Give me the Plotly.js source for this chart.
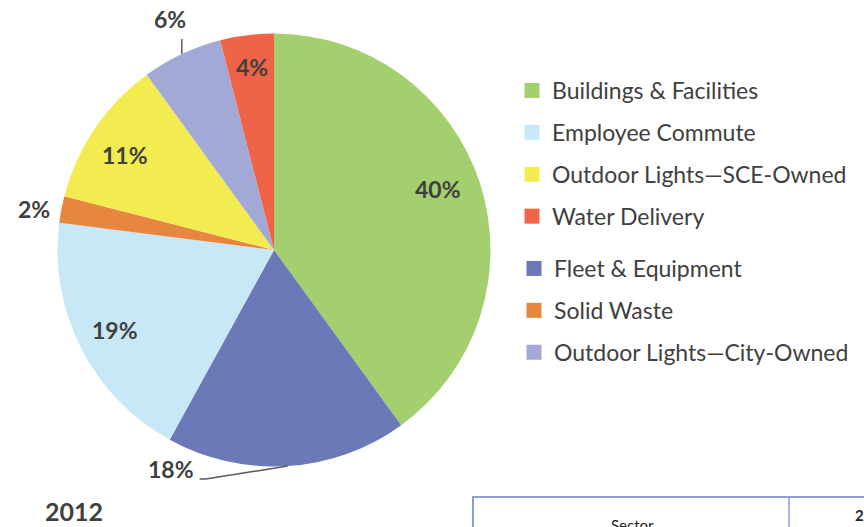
<!DOCTYPE html>
<html>
<head>
<meta charset="utf-8">
<script src="https://cdn.plot.ly/plotly-3.0.1.min.js"></script>
<style>html,body{margin:0;padding:0;background:#fff;overflow:hidden;width:864px;height:527px;}#chart{width:864px;height:527px;overflow:hidden;}</style>
</head>
<body>
<div id="chart"></div>
<script>
// ---- data ----
const categories = ['Buildings & Facilities', 'Fleet & Equipment', 'Employee Commute', 'Solid Waste',
  'Outdoor Lights\u2014SCE-Owned', 'Outdoor Lights\u2014City-Owned', 'Water Delivery'];
const shares = [40, 18, 19, 2, 11, 6, 4];
const legendGroup1 = ['Buildings & Facilities', 'Employee Commute', 'Outdoor Lights\u2014SCE-Owned', 'Water Delivery'];
const legendGroup2 = ['Fleet & Equipment', 'Solid Waste', 'Outdoor Lights\u2014City-Owned'];
const yearLabel = '2012';
const tableHeader = ['Sector', '2'];

// ---- style ----
const colorMap = {
  'Buildings & Facilities': '#a3cf6f',
  'Fleet & Equipment': '#6c79b9',
  'Employee Commute': '#c8e8f7',
  'Solid Waste': '#e6863f',
  'Outdoor Lights\u2014SCE-Owned': '#f2ec50',
  'Outdoor Lights\u2014City-Owned': '#a3a9d6',
  'Water Delivery': '#ef6446'
};
// label placement per slice: inside (radius fraction, angle tweak in degrees) or outside (pixel offsets from slice edge point)
const labelStyle = [
  {rf: 0.81, dth: -2.4},
  {dx: -117, dy: 3, line: [[-82, 13], [-88, 13]]},
  {rf: 0.822, dth: 0.3},
  {rf: 1.125, dth: -1.1},
  {rf: 0.816, dth: -1.7},
  {dx: -12, dy: -35, line: [[0, -15]]},
  {rf: 0.851, dth: 0.3}
];
const W = 864, H = 527;
const FONT = 'Lato, "Open Sans", sans-serif';
const TXT = '#404040';
const domX = [57.5 / W, 490.5 / W];
const domY = [1 - 466.5 / H, 1 - 33.5 / H];

const traces = [{
  type: 'pie',
  labels: categories,
  values: shares,
  sort: false,
  direction: 'clockwise',
  rotation: 0,
  marker: {colors: categories.map(c => colorMap[c]), line: {width: 0}},
  textinfo: 'none',
  hoverinfo: 'label+value',
  showlegend: false,
  domain: {x: domX, y: domY}
}];
legendGroup1.forEach((c, i) => traces.push({
  type: 'scatter', mode: 'markers', x: [null], y: [null], name: c,
  legend: 'legend', legendgroup: 'a' + i,
  marker: {symbol: 'square', size: 15, color: colorMap[c]}
}));
legendGroup2.forEach((c, i) => traces.push({
  type: 'scatter', mode: 'markers', x: [null], y: [null], name: c,
  legend: 'legend2', legendgroup: 'b' + i,
  marker: {symbol: 'square', size: 15, color: colorMap[c]}
}));

// pie geometry in pixels, derived from the domain
const cx = (domX[0] + domX[1]) / 2 * W;
const cy = (1 - (domY[0] + domY[1]) / 2) * H;
const R = Math.min((domX[1] - domX[0]) * W, (domY[1] - domY[0]) * H) / 2;
const total = shares.reduce((a, b) => a + b, 0);
const toPX = (px) => px / W, toPY = (py) => 1 - py / H;

const annotations = [];
const shapes = [];
let cum = 0;
shares.forEach((v, i) => {
  const th = 2 * Math.PI * (cum + v / 2) / total;
  cum += v;
  const st = labelStyle[i];
  let lx, ly;
  if (st.rf !== undefined) {
    const t = th + st.dth * Math.PI / 180;
    lx = cx + st.rf * R * Math.sin(t);
    ly = cy - st.rf * R * Math.cos(t);
  } else {
    const ex = cx + R * Math.sin(th), ey = cy - R * Math.cos(th);
    lx = ex + st.dx; ly = ey + st.dy;
    let path = 'M' + toPX(ex) + ',' + toPY(ey);
    st.line.forEach(p => { path += ' L' + toPX(ex + p[0]) + ',' + toPY(ey + p[1]); });
    shapes.push({type: 'path', xref: 'paper', yref: 'paper', path: path,
      line: {color: '#595959', width: 1.5}});
  }
  annotations.push({
    xref: 'paper', yref: 'paper', x: toPX(lx), y: toPY(ly),
    xanchor: 'center', yanchor: 'middle', showarrow: false,
    text: '<b>' + v + '%</b>',
    font: {family: FONT, size: 23, color: TXT}
  });
});

annotations.push({
  xref: 'paper', yref: 'paper', x: toPX(74), y: toPY(511), xanchor: 'center', yanchor: 'middle',
  showarrow: false, text: '<b>' + yearLabel + '</b>', font: {family: FONT, size: 25, color: TXT}
});
// partially visible table below
shapes.push({type: 'rect', xref: 'paper', yref: 'paper', x0: toPX(473), x1: toPX(880), y0: toPY(497), y1: toPY(540),
  line: {color: '#8c9cd8', width: 2}, fillcolor: 'rgba(0,0,0,0)'});
shapes.push({type: 'line', xref: 'paper', yref: 'paper', x0: toPX(789), x1: toPX(789), y0: toPY(497), y1: toPY(540),
  line: {color: '#8c9cd8', width: 1.5}});
annotations.push({xref: 'paper', yref: 'paper', x: toPX(632), y: toPY(514), xanchor: 'center', yanchor: 'top',
  showarrow: false, text: tableHeader[0], font: {family: FONT, size: 15, color: '#222'}});
annotations.push({xref: 'paper', yref: 'paper', x: toPX(859), y: toPY(504), xanchor: 'center', yanchor: 'top',
  showarrow: false, text: '<b>' + tableHeader[1] + '</b>', font: {family: FONT, size: 15, color: '#222'}});

const legendBase = {
  orientation: 'v', xanchor: 'left', yanchor: 'top', traceorder: 'grouped',
  tracegroupgap: 9, bgcolor: 'rgba(0,0,0,0)', borderwidth: 0,
  font: {family: FONT, size: 23, color: TXT}
};

const layout = {
  width: W, height: H,
  margin: {l: 0, r: 0, t: 0, b: 0},
  paper_bgcolor: '#fff', plot_bgcolor: '#fff',
  xaxis: {visible: false}, yaxis: {visible: false},
  showlegend: true,
  legend: Object.assign({}, legendBase, {x: 512 / W, y: toPY(69)}),
  legend2: Object.assign({}, legendBase, {x: 514 / W, y: toPY(247)}),
  annotations: annotations,
  shapes: shapes
};

Plotly.newPlot('chart', traces, layout, {displayModeBar: false, staticPlot: true});
</script>
</body>
</html>
